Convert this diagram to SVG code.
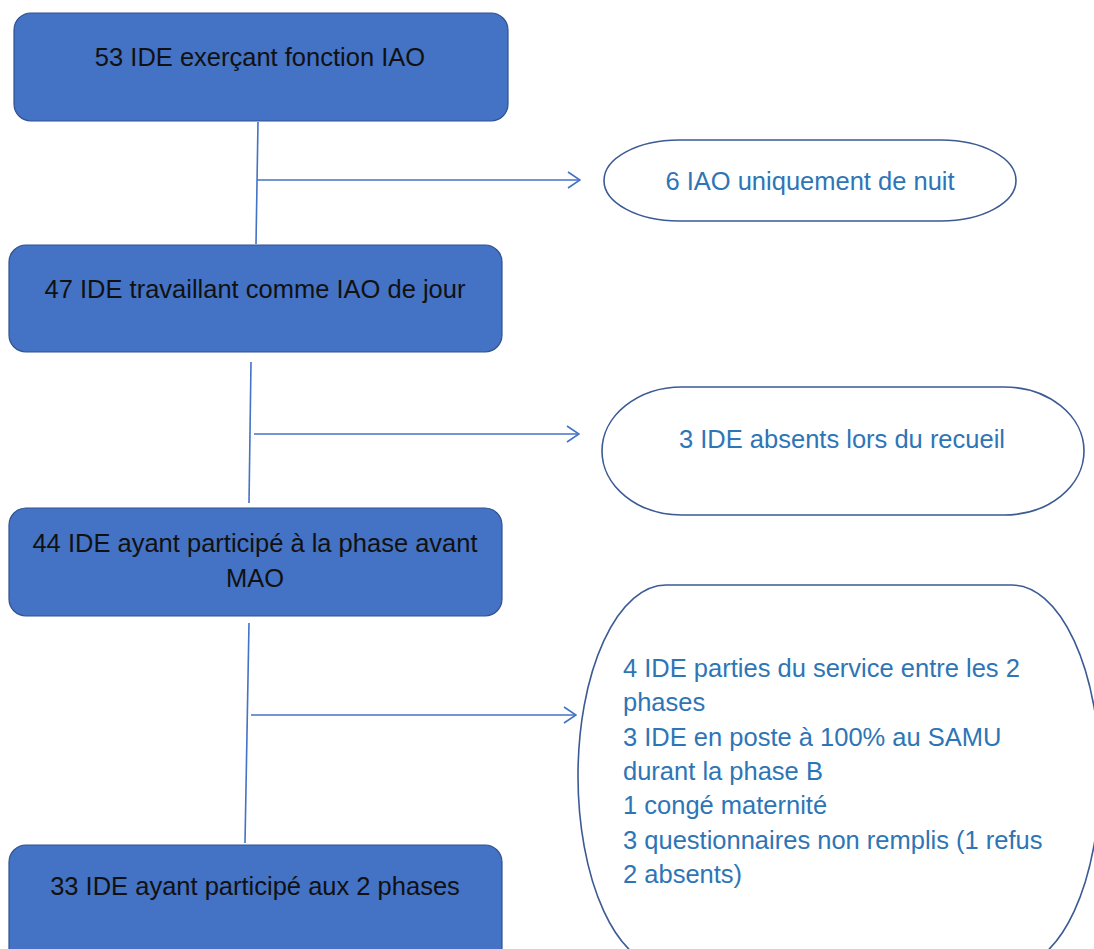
<svg xmlns="http://www.w3.org/2000/svg" width="1094" height="949" viewBox="0 0 1094 949">
<style>
.box{fill:#4472C4;stroke:#2F528F;stroke-width:1.2}
.oval{fill:#fff;stroke:#3C5A94;stroke-width:1.6}
.bt{font-family:"Liberation Sans",Arial,sans-serif;font-size:25.5px;fill:#111;text-anchor:middle}
.ot{font-family:"Liberation Sans",Arial,sans-serif;font-size:25.5px;fill:#2E75B6}
.ln{stroke:#4472C4;stroke-width:1.6;fill:none}
</style>
<defs>
<marker id="arr" markerWidth="14" markerHeight="18" refX="13" refY="9" orient="auto" markerUnits="userSpaceOnUse">
<path d="M1,1 L13,9 L1,17" fill="none" stroke="#4472C4" stroke-width="1.6"/>
</marker>
</defs>
<rect width="1094" height="949" fill="#fff"/>
<g id="connectors">
<line class="ln" x1="258" y1="122" x2="256" y2="244"/>
<line class="ln" x1="257" y1="180" x2="580" y2="180" marker-end="url(#arr)"/>
<line class="ln" x1="251" y1="362" x2="249" y2="503"/>
<line class="ln" x1="254" y1="434" x2="579" y2="434" marker-end="url(#arr)"/>
<line class="ln" x1="249" y1="623" x2="245" y2="843"/>
<line class="ln" x1="251" y1="715" x2="576" y2="715" marker-end="url(#arr)"/>
</g>
<g id="n1">
<rect class="box" x="14" y="13" width="494" height="108" rx="17"/>
<text class="bt" x="260" y="66">53 IDE exerçant fonction IAO</text>
</g>
<g id="n2">
<rect class="box" x="9" y="245" width="493" height="107" rx="17"/>
<text class="bt" x="255" y="298">47 IDE travaillant comme IAO de jour</text>
</g>
<g id="n3">
<rect class="box" x="9" y="508" width="493" height="108" rx="17"/>
<text class="bt" x="255" y="552">44 IDE ayant participé à la phase avant</text>
<text class="bt" x="255" y="587">MAO</text>
</g>
<g id="n4">
<rect class="box" x="9" y="845" width="493" height="120" rx="17"/>
<text class="bt" x="255" y="895">33 IDE ayant participé aux 2 phases</text>
</g>
<g id="o1">
<rect class="oval" x="604" y="140" width="412" height="81" rx="75" ry="40.5"/>
<text class="ot" x="810" y="190" text-anchor="middle">6 IAO uniquement de nuit</text>
</g>
<g id="o2">
<rect class="oval" x="602" y="387" width="482" height="128" rx="80" ry="64"/>
<text class="ot" x="842" y="448" text-anchor="middle">3 IDE absents lors du recueil</text>
</g>
<g id="o3">
<rect class="oval" x="578" y="585" width="522" height="382" rx="88" ry="191"/>
<text class="ot" x="623" y="677">4 IDE parties du service entre les 2</text>
<text class="ot" x="623" y="711">phases</text>
<text class="ot" x="623" y="746">3 IDE en poste à 100% au SAMU</text>
<text class="ot" x="623" y="780">durant la phase B</text>
<text class="ot" x="623" y="814">1 congé maternité</text>
<text class="ot" x="623" y="849">3 questionnaires non remplis (1 refus</text>
<text class="ot" x="623" y="883">2 absents)</text>
</g>
</svg>
